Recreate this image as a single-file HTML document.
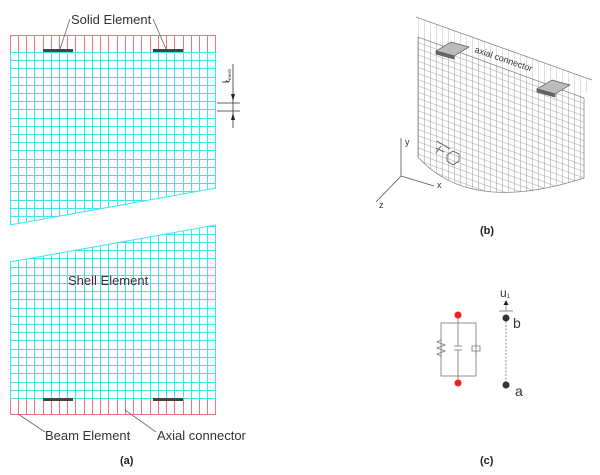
<!DOCTYPE html>
<html><head><meta charset="utf-8"><style>
html,body{margin:0;padding:0;background:#fff;width:600px;height:475px;overflow:hidden}
svg{display:block}
text{font-family:"Liberation Sans",sans-serif}
</style></head><body>
<svg width="600" height="475" viewBox="0 0 600 475" xmlns="http://www.w3.org/2000/svg">
<defs>
<pattern id="gv" x="418" y="0" width="6" height="10" patternUnits="userSpaceOnUse">
<path d="M0.5 0V10" stroke="#aaa" stroke-width="0.6"/>
</pattern>
<pattern id="gh" x="0" y="37" width="10" height="6.2" patternUnits="userSpaceOnUse" patternTransform="skewY(20.2)">
<path d="M0 0.5H10" stroke="#aaa" stroke-width="0.6"/>
</pattern>
<clipPath id="ct"><path d="M10 52H216V188L10 225Z"/></clipPath>
<clipPath id="cb"><path d="M10 262L216 225V399H10Z"/></clipPath>
<clipPath id="cm"><path d="M418 37L584 98V178Q470 215 418 157Z"/></clipPath>
<clipPath id="cband"><path d="M416 17L592 80L584 98L418 37Z"/></clipPath>
</defs>

<!-- Panel a -->
<path stroke="#f27080" stroke-width="1" fill="none" d="M10.5 35V52M18.5 35V52M26.5 35V52M34.5 35V52M43.5 35V52M51.5 35V52M59.5 35V52M67.5 35V52M75.5 35V52M84.5 35V52M92.5 35V52M100.5 35V52M108.5 35V52M117.5 35V52M125.5 35V52M133.5 35V52M141.5 35V52M150.5 35V52M158.5 35V52M166.5 35V52M174.5 35V52M183.5 35V52M191.5 35V52M199.5 35V52M207.5 35V52M215.5 35V52M10 35.5H216"/>
<path stroke="#f27080" stroke-width="1" fill="none" d="M10.5 398V415M18.5 398V415M26.5 398V415M34.5 398V415M43.5 398V415M51.5 398V415M59.5 398V415M67.5 398V415M75.5 398V415M84.5 398V415M92.5 398V415M100.5 398V415M108.5 398V415M117.5 398V415M125.5 398V415M133.5 398V415M141.5 398V415M150.5 398V415M158.5 398V415M166.5 398V415M174.5 398V415M183.5 398V415M191.5 398V415M199.5 398V415M207.5 398V415M215.5 398V415M10 414.5H216"/>
<g clip-path="url(#ct)">
<path stroke="#3ee6f0" stroke-width="1" fill="none" d="M10.5 52V230M18.5 52V230M26.5 52V230M34.5 52V230M43.5 52V230M51.5 52V230M59.5 52V230M67.5 52V230M75.5 52V230M84.5 52V230M92.5 52V230M100.5 52V230M108.5 52V230M117.5 52V230M125.5 52V230M133.5 52V230M141.5 52V230M150.5 52V230M158.5 52V230M166.5 52V230M174.5 52V230M183.5 52V230M191.5 52V230M199.5 52V230M207.5 52V230M215.5 52V230"/>
<path stroke="#3ee6f0" stroke-width="1" fill="none" d="M10 52.5H216M10 60.5H216M10 68.5H216M10 77.5H216M10 85.5H216M10 93.5H216M10 101.5H216M10 109.5H216M10 118.5H216M10 126.5H216M10 134.5H216M10 142.5H216M10 150.5H216M10 159.5H216M10 167.5H216M10 175.5H216M10 183.5H216M10 191.5H216M10 200.5H216M10 208.5H216M10 216.5H216M10 224.5H216"/>
</g>
<g clip-path="url(#cb)">
<path stroke="#3ee6f0" stroke-width="1" fill="none" d="M10.5 220V399M18.5 220V399M26.5 220V399M34.5 220V399M43.5 220V399M51.5 220V399M59.5 220V399M67.5 220V399M75.5 220V399M84.5 220V399M92.5 220V399M100.5 220V399M108.5 220V399M117.5 220V399M125.5 220V399M133.5 220V399M141.5 220V399M150.5 220V399M158.5 220V399M166.5 220V399M174.5 220V399M183.5 220V399M191.5 220V399M199.5 220V399M207.5 220V399M215.5 220V399"/>
<path stroke="#3ee6f0" stroke-width="1" fill="none" d="M10 398.5H216M10 390.5H216M10 382.5H216M10 373.5H216M10 365.5H216M10 357.5H216M10 349.5H216M10 340.5H216M10 332.5H216M10 324.5H216M10 316.5H216M10 308.5H216M10 299.5H216M10 291.5H216M10 283.5H216M10 275.5H216M10 267.5H216M10 258.5H216M10 250.5H216M10 242.5H216M10 234.5H216M10 226.5H216"/>
</g>
<path stroke="#3ee6f0" stroke-width="1" fill="none" d="M10 225L216 188M10 262L216 225"/>
<g fill="#444">
<rect x="43" y="49" width="30" height="3"/><rect x="153" y="49" width="30" height="3"/>
<rect x="43" y="398" width="30" height="3"/><rect x="153" y="398" width="30" height="3"/>
</g>
<g stroke="#666" stroke-width="0.8" fill="none">
<path d="M70 19L60 49"/><path d="M153 19L166 49"/>
<path d="M18 414L45 432"/><path d="M125 410L156 432"/>
</g>
<text x="71" y="24" font-size="13" fill="#333">Solid Element</text>
<text x="68" y="285" font-size="13" fill="#333">Shell Element</text>
<text x="45" y="440" font-size="13" fill="#333">Beam Element</text>
<text x="157" y="440" font-size="13" fill="#333">Axial connector</text>
<text x="120" y="464" font-size="11" font-family="Liberation Serif" font-weight="bold" fill="#222">(a)</text>
<!-- tmesh -->
<g stroke="#333" stroke-width="0.8">
<line x1="233" y1="64" x2="233" y2="128"/>
<line x1="217" y1="103" x2="240" y2="103"/><line x1="217" y1="111" x2="240" y2="111"/>
<line x1="222" y1="82" x2="229" y2="82"/>
</g>
<path d="M231 94L235 94L233 101Z M231 120L235 120L233 113Z" fill="#222"/>
<text x="0" y="0" font-size="7" fill="#333" transform="translate(230 82) rotate(-90)">t<tspan font-size="4.5" dy="1">mesh</tspan></text>

<!-- Panel b -->
<rect x="415" y="15" width="180" height="200" fill="url(#gv)" clip-path="url(#cm)"/>
<rect x="415" y="15" width="180" height="200" fill="url(#gh)" clip-path="url(#cm)"/>
<rect x="415" y="15" width="180" height="90" fill="url(#gv)" clip-path="url(#cband)" opacity="0.6"/>
<g stroke="#888" stroke-width="0.8" fill="none">
<path d="M416 17L592 80"/><path d="M418 37L584 98"/>
<path d="M418 37V157Q470 215 584 178V98"/>
</g>
<g stroke="#555" stroke-width="0.7">
<path d="M436 51L451 42L469 47L454 56Z" fill="#bbb"/>
<path d="M436 51L454 56L454 59L436 54Z" fill="#666"/>
<path d="M537 89L552 80L570 85L555 94Z" fill="#bbb"/>
<path d="M537 89L555 94L555 97L537 92Z" fill="#666"/>
</g>
<text x="0" y="0" font-size="9" fill="#333" transform="translate(474 52) rotate(19)">axial connector</text>
<g stroke="#555" stroke-width="0.8" fill="none">
<path d="M401 138V176"/><path d="M401 176L434 186"/><path d="M401 176L376 202"/>
<path d="M437 141L450 149M441 146L436 153M436 148L444 152"/>
<path d="M447 155L453 151L459 154V161L453 165L447 161Z"/>
</g>
<text x="405" y="145" font-size="9" fill="#333">y</text>
<text x="437" y="188" font-size="9" fill="#333">x</text>
<text x="379" y="208" font-size="9" fill="#333">z</text>
<text x="480" y="234" font-size="11" font-family="Liberation Serif" font-weight="bold" fill="#222">(b)</text>

<!-- Panel c -->
<g stroke="#777" stroke-width="0.8" fill="none">
<rect x="441" y="323" width="35" height="53"/>
<line x1="458" y1="315" x2="458" y2="383"/>
<path d="M441 338L441 340L437 342L445 345L437 348L445 351L437 354L441 356L441 358"/>
<path d="M476 343V346M472 346H480V351H472Z M476 351V354"/>
<path d="M454 346H462M454 350H462"/>
<line x1="506" y1="318" x2="506" y2="385" stroke-dasharray="2 1.5"/>
<line x1="499" y1="311" x2="513" y2="311"/>
<line x1="506" y1="303" x2="506" y2="311"/>
</g>
<rect x="456" y="346.5" width="4" height="3" fill="#fff"/>
<path d="M503.5 305L508.5 305L506 300Z" fill="#222"/>
<circle cx="458" cy="315" r="3.5" fill="#f02020"/>
<circle cx="458" cy="383" r="3.5" fill="#f02020"/>
<circle cx="506" cy="318" r="3.5" fill="#333"/>
<circle cx="506" cy="385" r="3.5" fill="#333"/>
<text x="500" y="297" font-size="12" fill="#333">u<tspan font-size="6" dy="1">1</tspan></text>
<text x="513" y="328" font-size="14" fill="#333">b</text>
<text x="515" y="396" font-size="14" fill="#333">a</text>
<text x="480" y="464" font-size="11" font-family="Liberation Serif" font-weight="bold" fill="#222">(c)</text>
</svg>
</body></html>
